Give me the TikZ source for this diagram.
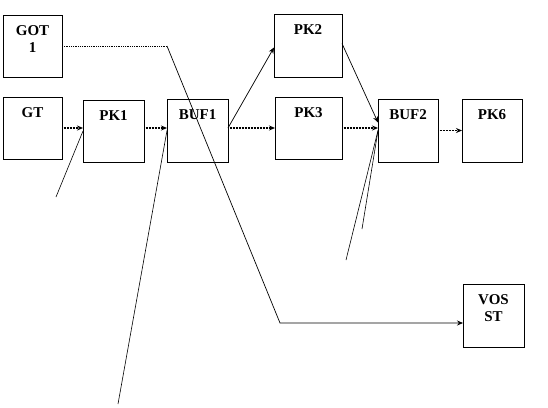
\documentclass[tikz,border=0pt]{standalone}
\usepackage{fontspec}
\setmainfont{Liberation Serif}
\usetikzlibrary{arrows.meta}
\begin{document}
\begin{tikzpicture}[x=1bp,y=-1bp,
  blk/.style 2 args={draw, line width=0.8bp, minimum width=#1bp, minimum height=#2bp,
    anchor=north west, inner sep=0pt, outer sep=0pt},
  lbl/.style={font=\bfseries\fontsize{15bp}{17.5bp}\selectfont, inner sep=0pt, align=center,
    anchor=north, yshift=-10bp},
  tip/.style={-{Stealth[length=6bp,width=5bp]}},
  harr/.style={tip, line width=1.2bp, dash pattern=on 1bp off 0.5bp},
  sarr/.style={tip, line width=0.7bp},
  ln/.style={line width=0.6bp}]
\useasboundingbox (0,0) rectangle (548,407);
\node[blk={59}{62}, label={[lbl]north:{GOT\\1}}] (got) at (3,15) {};
\node[blk={59}{62}, label={[lbl]north:GT}] (gt) at (3,97) {};
\node[blk={61}{62}, label={[lbl]north:PK1}] (pk1) at (83,100) {};
\node[blk={61}{63}, label={[lbl]north:BUF1}] (buf1) at (167,99) {};
\node[blk={68}{63}, label={[lbl]north:PK2}] (pk2) at (274,14) {};
\node[blk={67}{62}, label={[lbl]north:PK3}] (pk3) at (275,97) {};
\node[blk={60}{63}, label={[lbl]north:BUF2}] (buf2) at (378,99) {};
\node[blk={60}{63}, label={[lbl]north:PK6}] (pk6) at (462,99) {};
\node[blk={61}{63}, label={[lbl]north:{VOS\\ST}}] (vos) at (463,284) {};
\coordinate (bend) at (280,323);
\coordinate (f1) at (56,197);
\coordinate (f2) at (118,404);
\coordinate (f3) at (346,260);
\coordinate (f4) at (362,229);
% main flow
\draw[harr] (gt.east) -- (gt.east -| pk1.west);
\draw[harr] (pk1.east |- gt.east) -- (buf1.west |- gt.east);
\draw[harr] (buf1.east |- pk3.west) -- (pk3.west);
\draw[sarr] (buf1.east |- pk3.west) -- ([yshift=-2bp]pk2.west);
\draw[sarr] ([yshift=2bp]pk2.east) -- ([yshift=8bp]buf2.west);
\draw[harr] (pk3.east) -- (pk3.east -| buf2.west);
\draw[harr] (buf2.east) -- (pk6.west);
% GOT1 to VOSST
\draw[line width=0.8bp, densely dotted] (got.east) -- (got.east -| buf1.west);
\draw[sarr] (got.east -| buf1.west) -- (bend) -- (bend -| vos.west);
% free lines
\draw[ln] (f1) -- (pk1.west);
\draw[ln] (f2) -- (buf1.west);
\draw[ln] (f3) -- (buf2.west);
\draw[ln] (f4) -- (buf2.west);
\end{tikzpicture}
\end{document}
